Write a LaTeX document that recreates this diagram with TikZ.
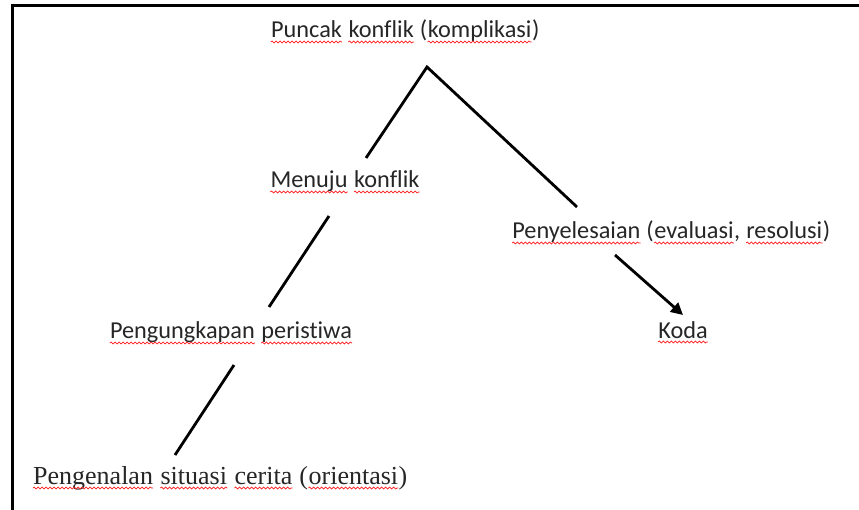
\documentclass[tikz,border=0pt]{standalone}
\usepackage{fontspec}
\setmainfont{Carlito}[Ligatures=NoCommon]
\newfontfamily\serifku{Liberation Serif}
\usetikzlibrary{arrows.meta, decorations.pathmorphing}
\newcommand\salah[1]{\tikz[baseline=(w.base)]{\node[inner sep=0pt] (w) {#1};
    \draw[red!90!white, line width=0.7pt, decorate, decoration={snake, amplitude=1pt, segment length=4pt}]
        ([yshift=-4pt]w.base west) -- ([yshift=-4pt]w.base east);}}
\tikzset{
  teks/.style={anchor=base, inner sep=0pt, text=black!85, font=\fontsize{24.3}{28}\selectfont},
  garis/.style={line width=2.8pt},
}

\begin{document}
\begin{tikzpicture}[x=1pt, y=-1pt]
    \useasboundingbox (0,0) rectangle (859,510);
    % Bingkai
    \draw[line width=3pt] (12,512) -- (12,6) -- (861,6);
    % Tahapan alur
    \node[teks] (puncak) at (405,38) {\salah{Puncak} \salah{konflik} (\salah{komplikasi})};
    \node[teks] (menuju) at (345,188) {\salah{Menuju} \salah{konflik}};
    \node[teks] (pengungkapan) at (231,339) {\salah{Pengungkapan} \salah{peristiwa}};
    \node[teks, font=\serifku\fontsize{26}{30}\selectfont] (pengenalan) at (220,484)
        {\salah{Pengenalan} \salah{situasi} \salah{cerita} (\salah{orientasi})};
    \node[teks] (penyelesaian) at (671,239) {\salah{Penyelesaian} (\salah{evaluasi}, \salah{resolusi})};
    \node[teks] (koda) at (683,338) {\salah{Koda}};
    % Titik ujung garis
    \coordinate (puncak-sudut) at (427,67);
    \coordinate (menuju-atas) at (366,158);
    \coordinate (menuju-bawah) at (329,216);
    \coordinate (pengungkapan-atas) at (269,307);
    \coordinate (pengungkapan-bawah) at (234,365);
    \coordinate (pengenalan-atas) at (175,455);
    \coordinate (penyelesaian-atas) at (577,207);
    \coordinate (penyelesaian-bawah) at (615,255);
    \coordinate (koda-atas) at (683,315);
    % Garis alur
    \draw[garis] (menuju-atas) -- (puncak-sudut) -- (penyelesaian-atas);
    \draw[garis] (menuju-bawah) -- (pengungkapan-atas);
    \draw[garis] (pengungkapan-bawah) -- (pengenalan-atas);
    \draw[garis, -{Triangle[length=12pt, width=12pt]}] (penyelesaian-bawah) -- (koda-atas);
\end{tikzpicture}
\end{document}
